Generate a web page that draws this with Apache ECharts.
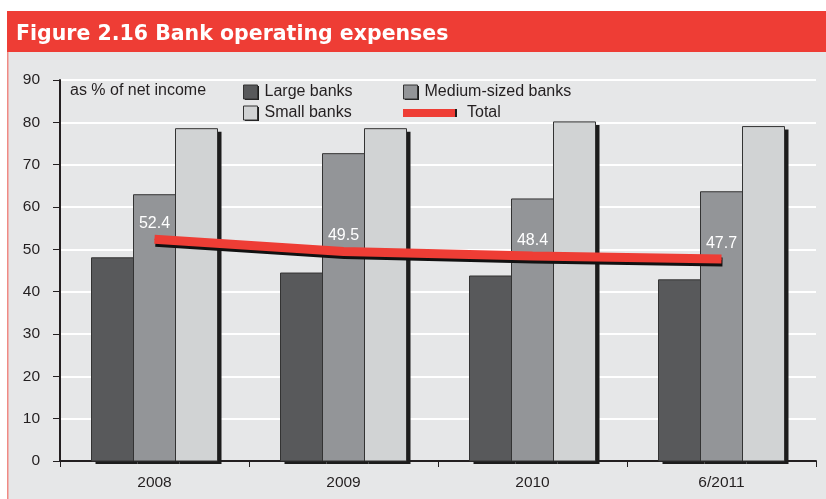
<!DOCTYPE html>
<html>
<head>
<meta charset="utf-8">
<script src="https://cdn.jsdelivr.net/npm/echarts@6/dist/echarts.min.js"></script>
<style>
html,body{margin:0;padding:0;background:#fff;}
#c{width:826px;height:499px;}
</style>
</head>
<body>
<div id="c"></div>
<script>
var categories = ['2008', '2009', '2010', '6/2011'];
var largeBanks = [48.0, 44.4, 43.7, 42.8];
var mediumBanks = [62.9, 72.6, 61.9, 63.6];
var smallBanks = [78.5, 78.5, 80.1, 79.0];
var total = [52.4, 49.5, 48.4, 47.7];

var FONT = '"Liberation Sans", Arial, sans-serif';
var chart = echarts.init(document.getElementById('c'));

var BAR_FRAC = 42 / 189;
function barRenderer(k, color) {
  return function (params, api) {
    var top = api.coord([api.value(0), api.value(1)]);
    var base = api.coord([api.value(0), 0]);
    var catW = api.size([1, 0])[0];
    var bw = catW * BAR_FRAC;
    var left = top[0] - 1.5 * bw + k * bw;
    var h = base[1] - top[1];
    return {
      type: 'group',
      children: [
        {type: 'rect', shape: {x: left + 4, y: top[1] + 3, width: bw, height: h},
          style: {fill: '#1c1c1c'}},
        {type: 'rect', shape: {x: left, y: top[1], width: bw, height: h},
          style: {fill: color, stroke: '#333333', lineWidth: 1}}
      ]
    };
  };
}
function barSeries(name, values, k, color) {
  return {
    name: name, type: 'custom',
    data: values.map(function (v, i) { return [i, v]; }),
    encode: {x: 0, y: 1},
    itemStyle: {color: color},
    renderItem: barRenderer(k, color)
  };
}
function legendCfg(name, color, left, top) {
  return {
    data: [{name: name, icon: 'rect',
      itemStyle: {color: color, borderColor: '#333333', borderWidth: 1}}],
    left: left, top: top,
    itemWidth: 14, itemHeight: 14,
    itemGap: 0, selectedMode: false, padding: 0,
    textStyle: {fontFamily: FONT, fontSize: 16, color: '#231f20', padding: [0, 0, 0, 2]}
  };
}

chart.setOption({
  animation: false,
  backgroundColor: '#ffffff',
  graphic: [
    {type: 'rect', shape: {x: 7, y: 11, width: 819, height: 41}, style: {fill: '#ee3d35'}, z: -10},
    {type: 'rect', shape: {x: 8, y: 52, width: 818, height: 447}, style: {fill: '#e6e7e8'}, z: -10},
    {type: 'rect', shape: {x: 7, y: 52, width: 1.5, height: 447}, style: {fill: '#f08a84'}, z: -9},
    // legend icon shadows
    {type: 'rect', shape: {x: 245, y: 86, width: 14, height: 14}, style: {fill: '#1c1c1c'}, z: -5},
    {type: 'rect', shape: {x: 405, y: 86, width: 14, height: 14}, style: {fill: '#1c1c1c'}, z: -5},
    {type: 'rect', shape: {x: 245, y: 107, width: 14, height: 14}, style: {fill: '#1c1c1c'}, z: -5},
    {type: 'rect', shape: {x: 405, y: 109, width: 52, height: 8}, style: {fill: '#1c1c1c'}, z: -5},
    {type: 'text', left: 16, top: 24, style: {text: 'Figure 2.16 Bank operating expenses', fill: '#ffffff', font: 'bold 20.5px "DejaVu Sans", sans-serif'}},
    {type: 'text', left: 70, top: 83, style: {text: 'as % of net income', fill: '#231f20', font: '16px ' + FONT}}
  ],
  legend: [
    legendCfg('Large banks', '#58595b', 243, 84),
    legendCfg('Medium-sized banks', '#939598', 403, 84),
    legendCfg('Small banks', '#d1d3d4', 243, 105),
    {
      data: [{name: 'Total', icon: 'rect', itemStyle: {color: '#ee3d35'}}],
      left: 403, top: 105, itemWidth: 52, itemHeight: 8, itemGap: 0,
      selectedMode: false, padding: 0,
      textStyle: {fontFamily: FONT, fontSize: 16, color: '#231f20', padding: [0, 0, 0, 7]}
    }
  ],
  grid: {left: 60, right: 10, top: 80, bottom: 38},
  xAxis: {
    type: 'category',
    data: categories,
    axisLine: {lineStyle: {color: '#231f20', width: 2}},
    axisTick: {show: true, length: 6, lineStyle: {color: '#231f20', width: 1}},
    axisLabel: {fontFamily: FONT, fontSize: 15.5, color: '#231f20', margin: 14}
  },
  yAxis: {
    type: 'value',
    min: 0, max: 90, interval: 10,
    axisLine: {show: true, lineStyle: {color: '#231f20', width: 2}},
    axisTick: {show: true, length: 7, lineStyle: {color: '#231f20', width: 1}},
    axisLabel: {fontFamily: FONT, fontSize: 15.5, color: '#231f20', margin: 20},
    splitLine: {lineStyle: {color: '#ffffff', width: 2}}
  },
  series: [
    barSeries('Large banks', largeBanks, 0, '#58595b'),
    barSeries('Medium-sized banks', mediumBanks, 1, '#939598'),
    barSeries('Small banks', smallBanks, 2, '#d1d3d4'),
    {
      name: 'Total', type: 'line', data: total,
      symbol: 'circle', symbolSize: 1, showSymbol: true,
      itemStyle: {color: '#ee3d35'},
      lineStyle: {color: '#ee3d35', width: 9, cap: 'butt', shadowColor: '#111', shadowBlur: 0, shadowOffsetX: 1, shadowOffsetY: 3},
      label: {show: true, position: 'top', distance: 7, color: '#ffffff', fontFamily: FONT, fontSize: 16,
        formatter: function (p) { return p.value.toFixed(1); }},
      z: 5
    }
  ]
});
</script>
</body>
</html>
